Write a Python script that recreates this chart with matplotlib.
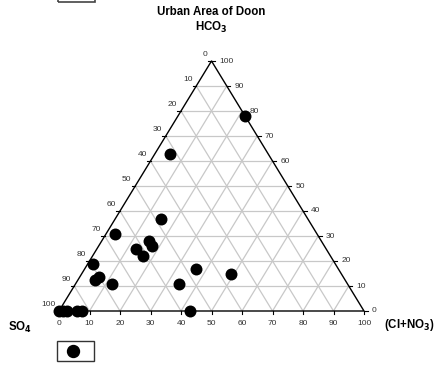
import matplotlib
matplotlib.use("Agg")
import matplotlib.pyplot as plt
from matplotlib.patches import Rectangle
import numpy as np

plt.rcParams['font.family'] = ['Liberation Sans', 'DejaVu Sans']

# Sample compositions (%)
hco3 = [78, 63, 37, 31, 28, 26, 25, 22, 19, 13.6, 12.4, 11, 17, 11, 15, 0, 0, 0, 0, 0, 0]
cl_no3 = [22, 5, 15, 3, 15.5, 17.5, 12.6, 16.5, 1.5, 6.3, 5.6, 12, 36.5, 34, 49, 43, 0, 1.3, 2.6, 5.9, 7.5]
so4 = [100 - a - b for a, b in zip(hco3, cl_no3)]

ticks = list(range(0, 101, 10))
title = "Urban Area of Doon"

W, H = 440, 365
fig = plt.figure(figsize=(W / 100, H / 100), dpi=100)

# axes in ternary (x, y) fraction space: bottom-left vertex at px (59, 311), width 305, height 250
X0, Y0, TW, TH = 59, 311, 305, 250
ax = fig.add_axes([X0 / W, (H - Y0) / H, TW / W, TH / H])
ax.set_xlim(0, 1)
ax.set_ylim(0, 1)
ax.axis('off')

def tern(c, h):
    c = np.asarray(c) / 100.0
    h = np.asarray(h) / 100.0
    return c + h / 2, h

grid_col = '#c8c8c8'
for v in ticks[1:-1]:
    f = v / 100
    # horizontal (HCO3 constant)
    ax.plot([f / 2, 1 - f / 2], [f, f], color=grid_col, lw=0.9, zorder=1)
    # Cl constant: from (f,0) to top-left direction
    x1, y1 = tern(v, 0)
    x2, y2 = tern(v, 100 - v)
    ax.plot([x1, x2], [y1, y2], color=grid_col, lw=0.9, zorder=1)
    # SO4 constant: Cl + HCO3 = 100 - v
    x1, y1 = tern(100 - v, 0)
    x2, y2 = tern(0, 100 - v)
    ax.plot([x1, x2], [y1, y2], color=grid_col, lw=0.9, zorder=1)

# triangle edges
ax.plot([0, 1, 0.5, 0], [0, 0, 1, 0], color='black', lw=1.0, zorder=2, clip_on=False)

tk = 0.012
lab_kw = dict(fontsize=6, color='#333333')
for v in ticks:
    f = v / 100
    # bottom axis (Cl+NO3)
    ax.plot([f, f], [0, -tk], color='black', lw=0.8, clip_on=False)
    ax.text(f, -0.035, str(v), ha='center', va='top', **lab_kw)
    # right axis (HCO3), 0 at bottom
    xr = 1 - f / 2
    ax.plot([xr, xr + tk], [f, f], color='black', lw=0.8, clip_on=False)
    ax.text(xr + 0.025, f, str(v), ha='left', va='center', **lab_kw)
    # left axis (SO4), 0 at top
    hl = 1 - f
    xl = hl / 2
    ax.plot([xl, xl - tk], [hl, hl], color='black', lw=0.8, clip_on=False)
    ax.text(xl - 0.012, hl + 0.012, str(v), ha='right', va='bottom', **lab_kw)

px, py = tern(cl_no3, hco3)
ax.scatter(px, py, s=74, color='black', zorder=5, clip_on=False, linewidths=0)

def fx(x):
    return x / W

def fy(y):
    return 1 - y / H

fig.text(fx(211), fy(12), title, ha='center', va='center', fontsize=8.3, fontweight='bold')
fig.text(fx(211), fy(27), r'HCO$_\mathbf{3}$', ha='center', va='center', fontsize=8.3, fontweight='bold')
fig.text(fx(8), fy(327), r'SO$_\mathbf{4}$', ha='left', va='center', fontsize=8.3, fontweight='bold')
fig.text(fx(384), fy(325), r'(Cl+NO$_\mathbf{3}$)', ha='left', va='center', fontsize=8.3, fontweight='bold')

# legend box
fig.patches.append(Rectangle((fx(57), fy(361)), fx(94) - fx(57), fy(341) - fy(361),
                             transform=fig.transFigure, fill=False, edgecolor='#333333', lw=1.0))
fig.add_artist(plt.Line2D([fx(73)], [fy(351)], marker='o', markersize=8.6, color='black',
                          transform=fig.transFigure, linestyle='none'))
# partial box at top
fig.patches.append(Rectangle((fx(58), fy(2)), fx(95) - fx(58), 0.05,
                             transform=fig.transFigure, fill=False, edgecolor='#444444', lw=1.2))

fig.savefig('out.png', dpi=100)
